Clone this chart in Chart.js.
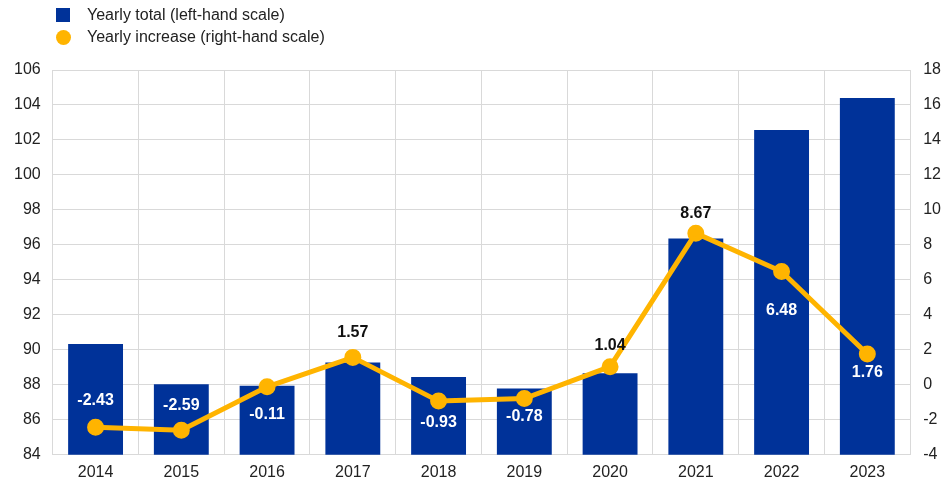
<!DOCTYPE html>
<html>
<head>
<meta charset="utf-8">
<script src="https://cdn.jsdelivr.net/npm/chart.js@4.4.1/dist/chart.umd.min.js"></script>
<style>
    body { margin: 0; background: #fff; font-family: "Liberation Sans", Arial, sans-serif; }
    .wrap { position: relative; width: 949px; height: 486px; }
    .legend { position: absolute; left: 56px; top: 4px; font-size: 16px; color: #222; }
    .legend div { height: 22px; line-height: 22px; display: flex; align-items: center; }
    .legend .sq { width: 14px; height: 14px; background: #003299; margin-right: 17px; }
    .legend .dot { width: 15px; height: 15px; border-radius: 50%; background: #FFB400; margin-right: 16px; }
</style>
</head>
<body>
<div class="wrap">
    <div class="legend">
        <div><span class="sq"></span>Yearly total (left-hand scale)</div>
        <div><span class="dot"></span>Yearly increase (right-hand scale)</div>
    </div>
    <canvas id="chart"></canvas>
</div>
<script>
// Dados
const years = ['2014', '2015', '2016', '2017', '2018', '2019', '2020', '2021', '2022', '2023'];

// Total anual (escala da esquerda)
const yearlyTotal = [90.34, 88.04, 87.95, 89.27, 88.45, 87.79, 88.66, 96.36, 102.57, 104.4];

// Aumento anual (escala da direita)
const yearlyIncrease = [-2.43, -2.59, -0.11, 1.57, -0.93, -0.78, 1.04, 8.67, 6.48, 1.76];

// Onde fica cada rótulo em relação ao ponto (px) e a cor dele
const labelOffsets = [-27, -25, 28, -25, 21, 18, -21, -20, 39, 19];
const labelColors = ['#fff', '#fff', '#fff', '#111', '#fff', '#fff', '#111', '#111', '#fff', '#fff'];

const BLUE = '#003299';
const YELLOW = '#FFB400';
const GRID = '#d9d9d9';
const FONT = '"Liberation Sans", Arial, sans-serif';

// Plugin simples para escrever os valores da linha
const pointLabels = {
    id: 'pointLabels',
    afterDatasetsDraw(chart) {
        const ctx = chart.ctx;
        const meta = chart.getDatasetMeta(1);
        ctx.save();
        ctx.font = 'bold 16px ' + FONT;
        ctx.textAlign = 'center';
        ctx.textBaseline = 'middle';
        meta.data.forEach((pt, i) => {
            ctx.fillStyle = labelColors[i];
            ctx.fillText(yearlyIncrease[i].toFixed(2), pt.x, pt.y + labelOffsets[i]);
        });
        ctx.restore();
    }
};

const ctx = document.getElementById('chart').getContext('2d');
new Chart(ctx, {
    type: 'bar',
    data: {
        labels: years,
        datasets: [{
            type: 'bar',
            label: 'Yearly total (left-hand scale)',
            data: yearlyTotal,
            backgroundColor: BLUE,
            barPercentage: 0.8,
            categoryPercentage: 0.8,
            yAxisID: 'y',
            order: 2
        }, {
            type: 'line',
            label: 'Yearly increase (right-hand scale)',
            data: yearlyIncrease,
            borderColor: YELLOW,
            backgroundColor: YELLOW,
            borderWidth: 5,
            pointRadius: 6,
            pointHoverRadius: 6,
            tension: 0,
            yAxisID: 'y1',
            order: 1
        }]
    },
    options: {
        responsive: true,
        maintainAspectRatio: false,
        animation: false,
        layout: {
            padding: { left: 2, right: -5, top: 70, bottom: -4 }
        },
        scales: {
            x: {
                grid: { color: GRID, drawTicks: false },
                border: { color: GRID },
                ticks: { color: '#222', padding: 8, font: { family: FONT, size: 16 } }
            },
            y: {
                position: 'left',
                min: 84,
                max: 106,
                ticks: { stepSize: 2, color: '#222', padding: 12, font: { family: FONT, size: 16 } },
                grid: { color: GRID, drawTicks: false },
                border: { color: GRID }
            },
            y1: {
                position: 'right',
                min: -4,
                max: 18,
                ticks: { stepSize: 2, color: '#222', padding: 13, font: { family: FONT, size: 16 } },
                grid: { drawOnChartArea: false, drawTicks: false },
                border: { color: GRID }
            }
        },
        plugins: {
            legend: { display: false },
            tooltip: { enabled: false }
        }
    },
    plugins: [pointLabels]
});
</script>
</body>
</html>
